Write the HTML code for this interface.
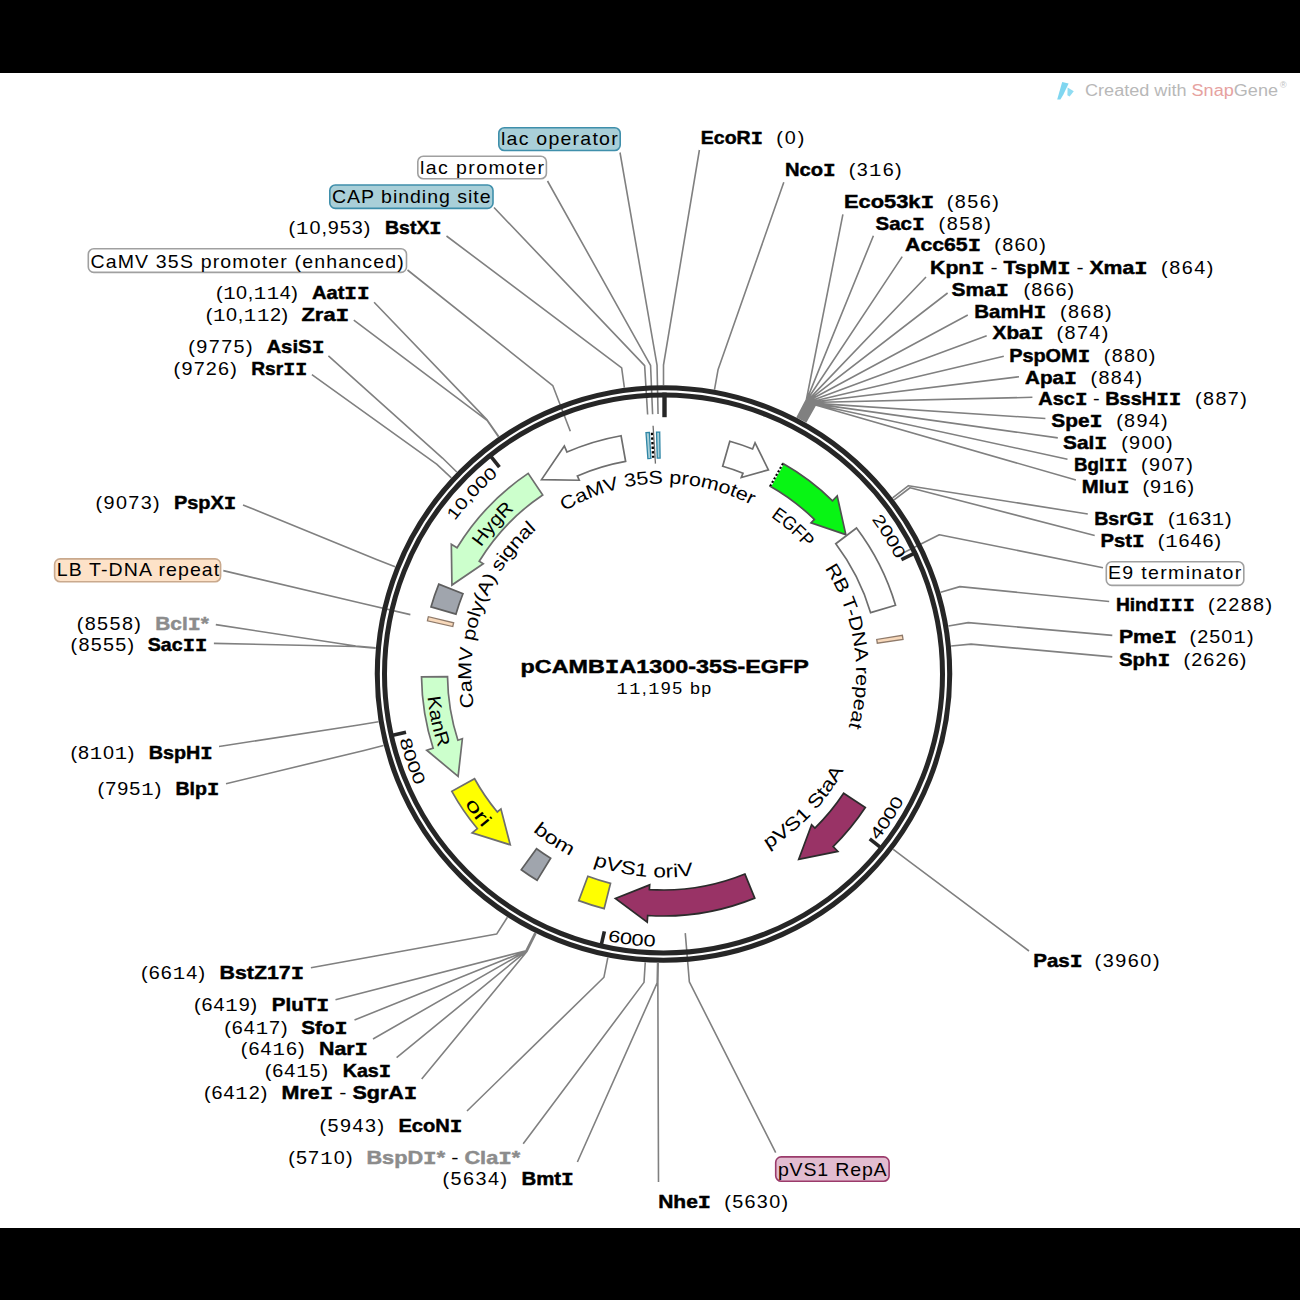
<!DOCTYPE html>
<html><head><meta charset="utf-8"><style>html,body{margin:0;padding:0;background:#fff;}svg{display:block;}</style></head>
<body><svg width="1300" height="1300" viewBox="0 0 1300 1300">
<defs><path id="tp1" d="M473.1 680.32 A190.5 190.5 0 0 1 853.9 667.68"/>
<path id="tp2" d="M520.71 547.9 A190.5 190.5 0 0 1 806.29 800.1"/>
<path id="tp3" d="M634.58 483.48 A192.7 192.7 0 0 1 692.42 864.52"/>
<path id="tp4" d="M522.47 822.09 A204.5 204.5 0 0 0 804.53 525.91"/>
<path id="tp5" d="M461.07 653.15 A203.5 203.5 0 0 0 865.93 694.85"/>
<path id="tp6" d="M491.94 560.88 A205.5 205.5 0 0 0 835.06 787.12"/>
<path id="tp7" d="M599.55 855.99 A192.9 192.9 0 0 1 727.45 492.01"/>
<path id="tp8" d="M516.32 841.53 A223 223 0 0 1 810.68 506.47"/>
<path id="tp9" d="M614.93 441.52 A237.5 237.5 0 0 0 712.07 906.48"/>
<path id="tp10" d="M520.75 483.19 A238.3 238.3 0 0 0 806.25 864.81"/>
<path id="tp11" d="M527.93 451.91 A260.2 260.2 0 0 1 799.07 896.09"/>
<path id="tp12" d="M486.01 862.35 A258.8 258.8 0 0 1 840.99 485.65"/>
<path id="tp13" d="M515.88 903.05 A272.5 272.5 0 0 0 811.12 444.95"/>
<path id="tp14" d="M391.43 641.56 A274 274 0 0 0 935.57 706.44"/>
<path id="tp15" d="M574.5 416.97 A272 272 0 0 0 752.5 931.03"/></defs>
<rect x="0" y="0" width="1300" height="1300" fill="#fff"/>
<rect x="0" y="0" width="1300" height="73" fill="#000"/>
<rect x="0" y="1228" width="1300" height="72" fill="#000"/>
<path d="M699.4 150 L663.5 365 L663.5 385 M783.8 182.3 L718.02 369.85 L714.49 389.53 M842.9 214.3 L806.31 399.98 L797.06 417.72 M873.4 235.7 L806.61 400.14 L797.35 417.87 M902.2 256.6 L806.92 400.3 L797.64 418.02 M926 277 L807.54 400.62 L798.21 418.32 M947.6 293 L807.84 400.79 L798.5 418.47 M967.8 315 L808.15 400.95 L798.79 418.62 M986.7 335.8 L809.07 401.44 L799.65 419.08 M1003.8 356.3 L809.99 401.93 L800.5 419.54 M1019 376.8 L810.6 402.26 L801.08 419.85 M1032.4 397.3 L811.05 402.51 L801.5 420.08 M1045.4 418.5 L812.12 403.09 L802.5 420.62 M1057.8 437.9 L813.03 403.59 L803.35 421.09 M1067.5 459.2 L814.09 404.18 L804.34 421.64 M1075.9 480 L815.45 404.94 L805.62 422.36 M1087.8 514 L908.48 485.67 L892.62 497.86 M1094.7 535.4 L910.05 487.74 L894.1 499.8 M1109.2 601.5 L959.89 586.63 L940.71 592.29 M1112.3 635.4 L968.2 622.6 L948.47 625.93 M1112.3 656.9 L971.05 644.09 L951.14 646.02 M1029 951 L909.16 861.43 L893.26 849.3 M658.5 1182 L657.86 982.95 L658.23 962.95 M446.5 236 L621.66 367.85 L624.37 387.66 M374.1 302.3 L487.32 420.15 L498.72 436.58 M353.8 320.2 L487.03 420.35 L498.46 436.76 M328.4 355.9 L442.49 458.05 L456.79 472.03 M311.9 374.7 L436.63 464.21 L451.32 477.79 M243 504.9 L376.52 559.44 L395.1 566.85 M215.8 624.6 L355.77 645.99 L375.69 647.8 M213.9 643.4 L355.73 646.51 L375.65 648.28 M219 746.5 L358.73 724.97 L378.46 721.67 M226 783.7 L364.1 750.42 L383.48 745.47 M310.9 967.8 L496.62 934.06 L507.42 917.23 M335.5 999.8 L526.02 950.73 L534.92 932.82 M354.5 1020 L526.34 950.89 L535.21 932.97 M373 1039 L526.49 950.96 L535.36 933.04 M396.6 1057.7 L526.65 951.04 L535.5 933.11 M421.7 1079 L527.11 951.27 L535.94 933.33 M467 1111 L603.96 977.21 L607.81 957.58 M523.2 1143.8 L644 982.38 L645.26 962.42 M577.4 1162 L657.17 982.94 L657.58 962.94 M620 152.5 L657.03 365.07 L658.05 414.06 M547.5 181 L650.56 365.27 L652.61 414.23 M494 207.5 L644.64 365.58 L647.63 414.48 M407.5 270 L552.76 385.52 L570.32 431.27 M1103 567.7 L939.31 534.68 L895.57 556.77 M223.3 570.6 L362.66 603.44 L410.37 614.63 M775.7 1152.7 L689.36 981.92 L685.26 933.09" fill="none" stroke="#808080" stroke-width="1.6" stroke-linejoin="round"/>
<circle cx="663.5" cy="674" r="286.2" fill="none" stroke="#262626" stroke-width="5.1"/>
<circle cx="663.5" cy="674" r="279" fill="none" stroke="#262626" stroke-width="5"/>
<line x1="664.5" y1="392.6" x2="664.5" y2="417.2" stroke="#262626" stroke-width="4.4"/>
<line x1="916.73" y1="552.21" x2="901.41" y2="559.57" stroke="#262626" stroke-width="3.6"/>
<line x1="883.02" y1="849.42" x2="869.74" y2="838.81" stroke="#262626" stroke-width="3.6"/>
<line x1="600.56" y1="947.86" x2="604.37" y2="931.29" stroke="#262626" stroke-width="3.6"/>
<line x1="389.42" y1="735.98" x2="406" y2="732.23" stroke="#262626" stroke-width="3.6"/>
<line x1="488.85" y1="453.87" x2="499.42" y2="467.18" stroke="#262626" stroke-width="3.6"/>
<path d="M621.06 435.75 A242 242 0 0 0 567 452.07 L564.33 445.93 L541.54 479.59 L579.24 480.23 L577.37 475.92 A216 216 0 0 1 625.62 461.35 Z" fill="#ffffff" stroke="#6e6e6e" stroke-width="1.7" stroke-linejoin="miter"/>
<path d="M729.8 441.26 A242 242 0 0 1 752.59 448.99 L755.05 442.76 L768.4 469.88 L741.28 477.54 L743.01 473.17 A216 216 0 0 0 722.68 466.26 Z" fill="#ffffff" stroke="#6e6e6e" stroke-width="1.7" stroke-linejoin="miter"/>
<path d="M783.03 463.58 A242 242 0 0 1 832.52 500.8 L837.2 496.01 L845.82 534.61 L811.08 522.77 L814.36 519.41 A216 216 0 0 0 770.19 486.19 Z" fill="#08f514" stroke="#505050" stroke-width="1.7" stroke-linejoin="miter"/>
<line x1="783.03" y1="463.58" x2="770.19" y2="486.19" stroke="#fff" stroke-width="2.2"/>
<line x1="783.03" y1="463.58" x2="770.19" y2="486.19" stroke="#000" stroke-width="2.2" stroke-dasharray="2 2"/>
<path d="M856.52 528.02 A242 242 0 0 1 895.53 605.27 L870.61 612.65 A216 216 0 0 0 835.78 543.71 Z" fill="#ffffff" stroke="#6e6e6e" stroke-width="1.7" stroke-linejoin="miter"/>
<path d="M902.39 635.31 A242 242 0 0 1 903.03 639.48 L877.29 643.19 A216 216 0 0 0 876.72 639.47 Z" fill="#f8d9bb" stroke="#8f7a6a" stroke-width="1.3" stroke-linejoin="miter"/>
<path d="M865.3 807.57 A242 242 0 0 1 833.12 846.61 L837.82 851.39 L798.72 859.43 L811.6 824.71 L814.9 828.06 A216 216 0 0 0 843.62 793.22 Z" fill="#993366" stroke="#2b2b2b" stroke-width="1.7" stroke-linejoin="miter"/>
<path d="M754.74 898.14 A242 242 0 0 1 647.67 915.48 L647.23 922.17 L615.39 898.4 L649.68 884.85 L649.37 889.54 A216 216 0 0 0 744.94 874.06 Z" fill="#993366" stroke="#2b2b2b" stroke-width="1.7" stroke-linejoin="miter"/>
<path d="M604.14 908.61 A242 242 0 0 1 578.75 900.67 L587.86 876.32 A216 216 0 0 0 610.51 883.4 Z" fill="#ffff00" stroke="#6e6e6e" stroke-width="1.7" stroke-linejoin="miter"/>
<path d="M537.06 880.34 A242 242 0 0 1 521.26 869.78 L536.54 848.75 A216 216 0 0 0 550.64 858.17 Z" fill="#a0a5ad" stroke="#5e5e5e" stroke-width="1.7" stroke-linejoin="miter"/>
<path d="M451.84 791.32 A242 242 0 0 0 477.31 828.58 L472.15 832.86 L510.23 844.82 L500.93 808.97 L497.31 811.97 A216 216 0 0 1 474.58 778.72 Z" fill="#ffff00" stroke="#6e6e6e" stroke-width="1.7" stroke-linejoin="miter"/>
<path d="M421.52 676.96 A242 242 0 0 0 433.15 748.18 L426.77 750.23 L458.11 776.4 L462.37 738.77 L457.9 740.21 A216 216 0 0 1 447.52 676.64 Z" fill="#ccffcc" stroke="#6e6e6e" stroke-width="1.7" stroke-linejoin="miter"/>
<path d="M430.99 606.89 A242 242 0 0 1 438.81 584.13 L462.95 593.78 A216 216 0 0 0 455.97 614.1 Z" fill="#a0a5ad" stroke="#5e5e5e" stroke-width="1.7" stroke-linejoin="miter"/>
<path d="M427.42 620.8 A242 242 0 0 1 428.39 616.69 L453.65 622.84 A216 216 0 0 0 452.78 626.51 Z" fill="#f8d9bb" stroke="#8f7a6a" stroke-width="1.3" stroke-linejoin="miter"/>
<path d="M528.18 473.37 A242 242 0 0 0 457.05 547.74 L451.34 544.24 L451.93 585.07 L483.24 563.75 L479.23 561.3 A216 216 0 0 1 542.71 494.93 Z" fill="#ccffcc" stroke="#6e6e6e" stroke-width="1.7" stroke-linejoin="miter"/>
<path d="M645.99 432.63 A242 242 0 0 1 649.36 432.41 L650.88 458.37 A216 216 0 0 0 647.87 458.57 Z" fill="#a9cfd8" stroke="#2f86a6" stroke-width="1.3" stroke-linejoin="miter"/>
<path d="M656.53 432.1 A242 242 0 0 1 659.7 432.03 L660.11 458.03 A216 216 0 0 0 657.28 458.09 Z" fill="#a9cfd8" stroke="#2f86a6" stroke-width="1.3" stroke-linejoin="miter"/>
<line x1="652.12" y1="432.77" x2="653.3" y2="457.74" stroke="#000" stroke-width="2.6" stroke-dasharray="2.4 2.2"/>
<line x1="653.09" y1="425.72" x2="655.42" y2="463.66" stroke="#6e6e6e" stroke-width="1.3"/>
<text font-family='"Liberation Sans", sans-serif' font-size="18.6" font-weight="normal" fill="#000"><textPath href="#tp1" startOffset="50%" text-anchor="middle" textLength="195.83" lengthAdjust="spacingAndGlyphs">CaMV 35S promoter</textPath></text>
<text font-family='"Liberation Sans", sans-serif' font-size="18.6" font-weight="normal" fill="#000"><textPath href="#tp2" startOffset="50%" text-anchor="middle" textLength="47.55" lengthAdjust="spacingAndGlyphs">EGFP</textPath></text>
<text font-family='"Liberation Sans", sans-serif' font-size="18.6" font-weight="normal" fill="#000"><textPath href="#tp3" startOffset="50%" text-anchor="middle" textLength="165.81" lengthAdjust="spacingAndGlyphs">RB T-DNA repeat</textPath></text>
<text font-family='"Liberation Sans", sans-serif' font-size="18.6" font-weight="normal" fill="#000"><textPath href="#tp4" startOffset="50%" text-anchor="middle" textLength="110.65" lengthAdjust="spacingAndGlyphs">pVS1 StaA</textPath></text>
<text font-family='"Liberation Sans", sans-serif' font-size="18.6" font-weight="normal" fill="#000"><textPath href="#tp5" startOffset="50%" text-anchor="middle" textLength="102.08" lengthAdjust="spacingAndGlyphs">pVS1 oriV</textPath></text>
<text font-family='"Liberation Sans", sans-serif' font-size="18.6" font-weight="normal" fill="#000"><textPath href="#tp6" startOffset="50%" text-anchor="middle" textLength="45.19" lengthAdjust="spacingAndGlyphs">bom</textPath></text>
<text font-family='"Liberation Sans", sans-serif' font-size="18.6" font-weight="normal" fill="#000"><textPath href="#tp7" startOffset="50%" text-anchor="middle" textLength="197.29" lengthAdjust="spacingAndGlyphs">CaMV poly(A) signal</textPath></text>
<text font-family='"Liberation Sans", sans-serif' font-size="18.6" font-weight="normal" fill="#000"><textPath href="#tp8" startOffset="50%" text-anchor="middle" textLength="50.6" lengthAdjust="spacingAndGlyphs">HygR</textPath></text>
<text font-family='"Liberation Sans", sans-serif' font-size="18.6" font-weight="normal" fill="#000"><textPath href="#tp9" startOffset="50%" text-anchor="middle" textLength="52.23" lengthAdjust="spacingAndGlyphs">KanR</textPath></text>
<text font-family='"Liberation Sans", sans-serif' font-size="18.6" font-weight="normal" fill="#000"><textPath href="#tp10" startOffset="50%" text-anchor="middle" textLength="31.19" lengthAdjust="spacingAndGlyphs">ori</textPath></text>
<text font-family='"Liberation Sans", sans-serif' font-size="16.6" font-weight="normal" fill="#000"><textPath href="#tp11" startOffset="50%" text-anchor="middle" textLength="47.68" lengthAdjust="spacingAndGlyphs">2000</textPath></text>
<text font-family='"Liberation Sans", sans-serif' font-size="16.6" font-weight="normal" fill="#000"><textPath href="#tp12" startOffset="50%" text-anchor="middle" textLength="63.69" lengthAdjust="spacingAndGlyphs">10,000</textPath></text>
<text font-family='"Liberation Sans", sans-serif' font-size="16.6" font-weight="normal" fill="#000"><textPath href="#tp13" startOffset="50%" text-anchor="middle" textLength="48.27" lengthAdjust="spacingAndGlyphs">4000</textPath></text>
<text font-family='"Liberation Sans", sans-serif' font-size="16.6" font-weight="normal" fill="#000"><textPath href="#tp14" startOffset="50%" text-anchor="middle" textLength="48.3" lengthAdjust="spacingAndGlyphs">6000</textPath></text>
<text font-family='"Liberation Sans", sans-serif' font-size="16.6" font-weight="normal" fill="#000"><textPath href="#tp15" startOffset="50%" text-anchor="middle" textLength="49.37" lengthAdjust="spacingAndGlyphs">8000</textPath></text>
<text x="520.6" y="673.4" font-family='"Liberation Sans", sans-serif' font-size="19" font-weight="bold" stroke="#000" stroke-width="0.45" textLength="288.2" lengthAdjust="spacingAndGlyphs">pCAMB<tspan font-family='"Liberation Mono", monospace' font-size="19.85">I</tspan>A1300-35S-EGFP</text>
<text transform="translate(616.6 693.6) scale(1.1 1)" font-family='"Liberation Sans", sans-serif' font-size="16.2" textLength="86" lengthAdjust="spacing"><tspan font-family='"Liberation Mono", monospace' font-size="16.9">1</tspan><tspan font-family='"Liberation Mono", monospace' font-size="16.9">1</tspan>,<tspan font-family='"Liberation Mono", monospace' font-size="16.9">1</tspan>95 bp</text>
<!--T--><text x="700.8" y="143.9" font-family='"Liberation Sans", sans-serif' font-size="18.4" font-weight="bold" fill="#000" stroke="#000" stroke-width="0.45" textLength="62.1" lengthAdjust="spacingAndGlyphs">EcoR<tspan font-family='"Liberation Mono", monospace' font-size="19.22">I</tspan></text>
<!--T--><text transform="translate(776.2 143.9) scale(1.1 1)" font-family='"Liberation Sans", sans-serif' font-size="18.0" font-weight="normal" fill="#000" textLength="25.64" lengthAdjust="spacing">(0)</text>
<!--T--><text x="785" y="175.9" font-family='"Liberation Sans", sans-serif' font-size="18.4" font-weight="bold" fill="#000" stroke="#000" stroke-width="0.45" textLength="50.7" lengthAdjust="spacingAndGlyphs">Nco<tspan font-family='"Liberation Mono", monospace' font-size="19.22">I</tspan></text>
<!--T--><text transform="translate(848.8 175.9) scale(1.1 1)" font-family='"Liberation Sans", sans-serif' font-size="18.0" font-weight="normal" fill="#000" textLength="48.09" lengthAdjust="spacing">(3<tspan font-family='"Liberation Mono", monospace' font-size="18.8">1</tspan>6)</text>
<!--T--><text x="844" y="207.9" font-family='"Liberation Sans", sans-serif' font-size="18.4" font-weight="bold" fill="#000" stroke="#000" stroke-width="0.45" textLength="90.2" lengthAdjust="spacingAndGlyphs">Eco53k<tspan font-family='"Liberation Mono", monospace' font-size="19.22">I</tspan></text>
<!--T--><text transform="translate(946.8 207.9) scale(1.1 1)" font-family='"Liberation Sans", sans-serif' font-size="18.0" font-weight="normal" fill="#000" textLength="47.36" lengthAdjust="spacing">(856)</text>
<!--T--><text x="875.6" y="229.5" font-family='"Liberation Sans", sans-serif' font-size="18.4" font-weight="bold" fill="#000" stroke="#000" stroke-width="0.45" textLength="49.2" lengthAdjust="spacingAndGlyphs">Sac<tspan font-family='"Liberation Mono", monospace' font-size="19.22">I</tspan></text>
<!--T--><text transform="translate(938.6 229.5) scale(1.1 1)" font-family='"Liberation Sans", sans-serif' font-size="18.0" font-weight="normal" fill="#000" textLength="47.45" lengthAdjust="spacing">(858)</text>
<!--T--><text x="905.1" y="251.3" font-family='"Liberation Sans", sans-serif' font-size="18.4" font-weight="bold" fill="#000" stroke="#000" stroke-width="0.45" textLength="75.9" lengthAdjust="spacingAndGlyphs">Acc65<tspan font-family='"Liberation Mono", monospace' font-size="19.22">I</tspan></text>
<!--T--><text transform="translate(994.3 251.3) scale(1.1 1)" font-family='"Liberation Sans", sans-serif' font-size="18.0" font-weight="normal" fill="#000" textLength="46.82" lengthAdjust="spacing">(860)</text>
<!--T--><text x="930.1" y="273.5" font-family='"Liberation Sans", sans-serif' font-size="18.4" font-weight="bold" fill="#000" stroke="#000" stroke-width="0.45" textLength="217.4" lengthAdjust="spacingAndGlyphs"><tspan fill="#000">Kpn<tspan font-family='"Liberation Mono", monospace' font-size="19.22">I</tspan></tspan><tspan font-weight="normal" fill="#000" stroke-width="0"> - </tspan><tspan fill="#000">TspM<tspan font-family='"Liberation Mono", monospace' font-size="19.22">I</tspan></tspan><tspan font-weight="normal" fill="#000" stroke-width="0"> - </tspan><tspan fill="#000">Xma<tspan font-family='"Liberation Mono", monospace' font-size="19.22">I</tspan></tspan></text>
<!--T--><text transform="translate(1161.1 273.5) scale(1.1 1)" font-family='"Liberation Sans", sans-serif' font-size="18.0" font-weight="normal" fill="#000" textLength="47.45" lengthAdjust="spacing">(864)</text>
<!--T--><text x="951.6" y="295.6" font-family='"Liberation Sans", sans-serif' font-size="18.4" font-weight="bold" fill="#000" stroke="#000" stroke-width="0.45" textLength="57.4" lengthAdjust="spacingAndGlyphs">Sma<tspan font-family='"Liberation Mono", monospace' font-size="19.22">I</tspan></text>
<!--T--><text transform="translate(1023.4 295.6) scale(1.1 1)" font-family='"Liberation Sans", sans-serif' font-size="18.0" font-weight="normal" fill="#000" textLength="46.18" lengthAdjust="spacing">(866)</text>
<!--T--><text x="974.3" y="317.5" font-family='"Liberation Sans", sans-serif' font-size="18.4" font-weight="bold" fill="#000" stroke="#000" stroke-width="0.45" textLength="72.1" lengthAdjust="spacingAndGlyphs">BamH<tspan font-family='"Liberation Mono", monospace' font-size="19.22">I</tspan></text>
<!--T--><text transform="translate(1060 317.5) scale(1.1 1)" font-family='"Liberation Sans", sans-serif' font-size="18.0" font-weight="normal" fill="#000" textLength="47" lengthAdjust="spacing">(868)</text>
<!--T--><text x="992.6" y="339.4" font-family='"Liberation Sans", sans-serif' font-size="18.4" font-weight="bold" fill="#000" stroke="#000" stroke-width="0.45" textLength="51" lengthAdjust="spacingAndGlyphs">Xba<tspan font-family='"Liberation Mono", monospace' font-size="19.22">I</tspan></text>
<!--T--><text transform="translate(1056.6 339.4) scale(1.1 1)" font-family='"Liberation Sans", sans-serif' font-size="18.0" font-weight="normal" fill="#000" textLength="47" lengthAdjust="spacing">(874)</text>
<!--T--><text x="1009.2" y="361.5" font-family='"Liberation Sans", sans-serif' font-size="18.4" font-weight="bold" fill="#000" stroke="#000" stroke-width="0.45" textLength="80.9" lengthAdjust="spacingAndGlyphs">PspOM<tspan font-family='"Liberation Mono", monospace' font-size="19.22">I</tspan></text>
<!--T--><text transform="translate(1103.7 361.5) scale(1.1 1)" font-family='"Liberation Sans", sans-serif' font-size="18.0" font-weight="normal" fill="#000" textLength="47" lengthAdjust="spacing">(880)</text>
<!--T--><text x="1025" y="383.7" font-family='"Liberation Sans", sans-serif' font-size="18.4" font-weight="bold" fill="#000" stroke="#000" stroke-width="0.45" textLength="51.9" lengthAdjust="spacingAndGlyphs">Apa<tspan font-family='"Liberation Mono", monospace' font-size="19.22">I</tspan></text>
<!--T--><text transform="translate(1090.4 383.7) scale(1.1 1)" font-family='"Liberation Sans", sans-serif' font-size="18.0" font-weight="normal" fill="#000" textLength="47.09" lengthAdjust="spacing">(884)</text>
<!--T--><text x="1038.3" y="405.3" font-family='"Liberation Sans", sans-serif' font-size="18.4" font-weight="bold" fill="#000" stroke="#000" stroke-width="0.45" textLength="143" lengthAdjust="spacingAndGlyphs"><tspan fill="#000">Asc<tspan font-family='"Liberation Mono", monospace' font-size="19.22">I</tspan></tspan><tspan font-weight="normal" fill="#000" stroke-width="0"> - </tspan><tspan fill="#000">BssH<tspan font-family='"Liberation Mono", monospace' font-size="19.22">I</tspan><tspan font-family='"Liberation Mono", monospace' font-size="19.22">I</tspan></tspan></text>
<!--T--><text transform="translate(1195.1 405.3) scale(1.1 1)" font-family='"Liberation Sans", sans-serif' font-size="18.0" font-weight="normal" fill="#000" textLength="47" lengthAdjust="spacing">(887)</text>
<!--T--><text x="1051.3" y="427.4" font-family='"Liberation Sans", sans-serif' font-size="18.4" font-weight="bold" fill="#000" stroke="#000" stroke-width="0.45" textLength="51.3" lengthAdjust="spacingAndGlyphs">Spe<tspan font-family='"Liberation Mono", monospace' font-size="19.22">I</tspan></text>
<!--T--><text transform="translate(1116.2 427.4) scale(1.1 1)" font-family='"Liberation Sans", sans-serif' font-size="18.0" font-weight="normal" fill="#000" textLength="46.73" lengthAdjust="spacing">(894)</text>
<!--T--><text x="1063" y="449" font-family='"Liberation Sans", sans-serif' font-size="18.4" font-weight="bold" fill="#000" stroke="#000" stroke-width="0.45" textLength="44.3" lengthAdjust="spacingAndGlyphs">Sal<tspan font-family='"Liberation Mono", monospace' font-size="19.22">I</tspan></text>
<!--T--><text transform="translate(1121.2 449) scale(1.1 1)" font-family='"Liberation Sans", sans-serif' font-size="18.0" font-weight="normal" fill="#000" textLength="46.73" lengthAdjust="spacing">(900)</text>
<!--T--><text x="1074" y="470.9" font-family='"Liberation Sans", sans-serif' font-size="18.4" font-weight="bold" fill="#000" stroke="#000" stroke-width="0.45" textLength="53.5" lengthAdjust="spacingAndGlyphs">Bgl<tspan font-family='"Liberation Mono", monospace' font-size="19.22">I</tspan><tspan font-family='"Liberation Mono", monospace' font-size="19.22">I</tspan></text>
<!--T--><text transform="translate(1141.1 470.9) scale(1.1 1)" font-family='"Liberation Sans", sans-serif' font-size="18.0" font-weight="normal" fill="#000" textLength="47" lengthAdjust="spacing">(907)</text>
<!--T--><text x="1081.8" y="493" font-family='"Liberation Sans", sans-serif' font-size="18.4" font-weight="bold" fill="#000" stroke="#000" stroke-width="0.45" textLength="47.7" lengthAdjust="spacingAndGlyphs">Mlu<tspan font-family='"Liberation Mono", monospace' font-size="19.22">I</tspan></text>
<!--T--><text transform="translate(1142.5 493) scale(1.1 1)" font-family='"Liberation Sans", sans-serif' font-size="18.0" font-weight="normal" fill="#000" textLength="47" lengthAdjust="spacing">(9<tspan font-family='"Liberation Mono", monospace' font-size="18.8">1</tspan>6)</text>
<!--T--><text x="1094.2" y="524.9" font-family='"Liberation Sans", sans-serif' font-size="18.4" font-weight="bold" fill="#000" stroke="#000" stroke-width="0.45" textLength="60.2" lengthAdjust="spacingAndGlyphs">BsrG<tspan font-family='"Liberation Mono", monospace' font-size="19.22">I</tspan></text>
<!--T--><text transform="translate(1168 524.9) scale(1.1 1)" font-family='"Liberation Sans", sans-serif' font-size="18.0" font-weight="normal" fill="#000" textLength="57.82" lengthAdjust="spacing">(<tspan font-family='"Liberation Mono", monospace' font-size="18.8">1</tspan>63<tspan font-family='"Liberation Mono", monospace' font-size="18.8">1</tspan>)</text>
<!--T--><text x="1100.6" y="546.5" font-family='"Liberation Sans", sans-serif' font-size="18.4" font-weight="bold" fill="#000" stroke="#000" stroke-width="0.45" textLength="44.1" lengthAdjust="spacingAndGlyphs">Pst<tspan font-family='"Liberation Mono", monospace' font-size="19.22">I</tspan></text>
<!--T--><text transform="translate(1157.7 546.5) scale(1.1 1)" font-family='"Liberation Sans", sans-serif' font-size="18.0" font-weight="normal" fill="#000" textLength="57.64" lengthAdjust="spacing">(<tspan font-family='"Liberation Mono", monospace' font-size="18.8">1</tspan>646)</text>
<!--T--><text x="1115.9" y="611.4" font-family='"Liberation Sans", sans-serif' font-size="18.4" font-weight="bold" fill="#000" stroke="#000" stroke-width="0.45" textLength="78.9" lengthAdjust="spacingAndGlyphs">Hind<tspan font-family='"Liberation Mono", monospace' font-size="19.22">I</tspan><tspan font-family='"Liberation Mono", monospace' font-size="19.22">I</tspan><tspan font-family='"Liberation Mono", monospace' font-size="19.22">I</tspan></text>
<!--T--><text transform="translate(1208 611.4) scale(1.1 1)" font-family='"Liberation Sans", sans-serif' font-size="18.0" font-weight="normal" fill="#000" textLength="58.18" lengthAdjust="spacing">(2288)</text>
<!--T--><text x="1119" y="643" font-family='"Liberation Sans", sans-serif' font-size="18.4" font-weight="bold" fill="#000" stroke="#000" stroke-width="0.45" textLength="58" lengthAdjust="spacingAndGlyphs">Pme<tspan font-family='"Liberation Mono", monospace' font-size="19.22">I</tspan></text>
<!--T--><text transform="translate(1189.6 643) scale(1.1 1)" font-family='"Liberation Sans", sans-serif' font-size="18.0" font-weight="normal" fill="#000" textLength="58.09" lengthAdjust="spacing">(250<tspan font-family='"Liberation Mono", monospace' font-size="18.8">1</tspan>)</text>
<!--T--><text x="1119" y="665.5" font-family='"Liberation Sans", sans-serif' font-size="18.4" font-weight="bold" fill="#000" stroke="#000" stroke-width="0.45" textLength="51.2" lengthAdjust="spacingAndGlyphs">Sph<tspan font-family='"Liberation Mono", monospace' font-size="19.22">I</tspan></text>
<!--T--><text transform="translate(1183.4 665.5) scale(1.1 1)" font-family='"Liberation Sans", sans-serif' font-size="18.0" font-weight="normal" fill="#000" textLength="57.27" lengthAdjust="spacing">(2626)</text>
<!--T--><text x="1033.2" y="967.4" font-family='"Liberation Sans", sans-serif' font-size="18.4" font-weight="bold" fill="#000" stroke="#000" stroke-width="0.45" textLength="49.4" lengthAdjust="spacingAndGlyphs">Pas<tspan font-family='"Liberation Mono", monospace' font-size="19.22">I</tspan></text>
<!--T--><text transform="translate(1094.6 967.4) scale(1.1 1)" font-family='"Liberation Sans", sans-serif' font-size="18.0" font-weight="normal" fill="#000" textLength="59" lengthAdjust="spacing">(3960)</text>
<!--T--><text x="658.2" y="1207.7" font-family='"Liberation Sans", sans-serif' font-size="18.4" font-weight="bold" fill="#000" stroke="#000" stroke-width="0.45" textLength="52.8" lengthAdjust="spacingAndGlyphs">Nhe<tspan font-family='"Liberation Mono", monospace' font-size="19.22">I</tspan></text>
<!--T--><text transform="translate(724.2 1207.7) scale(1.1 1)" font-family='"Liberation Sans", sans-serif' font-size="18.0" font-weight="normal" fill="#000" textLength="58.09" lengthAdjust="spacing">(5630)</text>
<!--T--><text transform="translate(288.5 234.4) scale(1.1 1)" font-family='"Liberation Sans", sans-serif' font-size="18.0" font-weight="normal" fill="#000" textLength="74.45" lengthAdjust="spacing">(<tspan font-family='"Liberation Mono", monospace' font-size="18.8">1</tspan>0,953)</text>
<!--T--><text x="385" y="234.4" font-family='"Liberation Sans", sans-serif' font-size="18.4" font-weight="bold" fill="#000" stroke="#000" stroke-width="0.45" textLength="56.6" lengthAdjust="spacingAndGlyphs">BstX<tspan font-family='"Liberation Mono", monospace' font-size="19.22">I</tspan></text>
<!--T--><text transform="translate(216 299) scale(1.1 1)" font-family='"Liberation Sans", sans-serif' font-size="18.0" font-weight="normal" fill="#000" textLength="74.36" lengthAdjust="spacing">(<tspan font-family='"Liberation Mono", monospace' font-size="18.8">1</tspan>0,<tspan font-family='"Liberation Mono", monospace' font-size="18.8">1</tspan><tspan font-family='"Liberation Mono", monospace' font-size="18.8">1</tspan>4)</text>
<!--T--><text x="311.9" y="299" font-family='"Liberation Sans", sans-serif' font-size="18.4" font-weight="bold" fill="#000" stroke="#000" stroke-width="0.45" textLength="57.7" lengthAdjust="spacingAndGlyphs">Aat<tspan font-family='"Liberation Mono", monospace' font-size="19.22">I</tspan><tspan font-family='"Liberation Mono", monospace' font-size="19.22">I</tspan></text>
<!--T--><text transform="translate(205.8 320.8) scale(1.1 1)" font-family='"Liberation Sans", sans-serif' font-size="18.0" font-weight="normal" fill="#000" textLength="74.91" lengthAdjust="spacing">(<tspan font-family='"Liberation Mono", monospace' font-size="18.8">1</tspan>0,<tspan font-family='"Liberation Mono", monospace' font-size="18.8">1</tspan><tspan font-family='"Liberation Mono", monospace' font-size="18.8">1</tspan>2)</text>
<!--T--><text x="301.5" y="320.8" font-family='"Liberation Sans", sans-serif' font-size="18.4" font-weight="bold" fill="#000" stroke="#000" stroke-width="0.45" textLength="47.8" lengthAdjust="spacingAndGlyphs">Zra<tspan font-family='"Liberation Mono", monospace' font-size="19.22">I</tspan></text>
<!--T--><text transform="translate(188.3 352.9) scale(1.1 1)" font-family='"Liberation Sans", sans-serif' font-size="18.0" font-weight="normal" fill="#000" textLength="58.45" lengthAdjust="spacing">(9775)</text>
<!--T--><text x="266.4" y="352.9" font-family='"Liberation Sans", sans-serif' font-size="18.4" font-weight="bold" fill="#000" stroke="#000" stroke-width="0.45" textLength="58" lengthAdjust="spacingAndGlyphs">AsiS<tspan font-family='"Liberation Mono", monospace' font-size="19.22">I</tspan></text>
<!--T--><text transform="translate(173.6 374.7) scale(1.1 1)" font-family='"Liberation Sans", sans-serif' font-size="18.0" font-weight="normal" fill="#000" textLength="57.55" lengthAdjust="spacing">(9726)</text>
<!--T--><text x="251.3" y="374.7" font-family='"Liberation Sans", sans-serif' font-size="18.4" font-weight="bold" fill="#000" stroke="#000" stroke-width="0.45" textLength="55.9" lengthAdjust="spacingAndGlyphs">Rsr<tspan font-family='"Liberation Mono", monospace' font-size="19.22">I</tspan><tspan font-family='"Liberation Mono", monospace' font-size="19.22">I</tspan></text>
<!--T--><text transform="translate(95.6 508.5) scale(1.1 1)" font-family='"Liberation Sans", sans-serif' font-size="18.0" font-weight="normal" fill="#000" textLength="58.27" lengthAdjust="spacing">(9073)</text>
<!--T--><text x="173.9" y="508.5" font-family='"Liberation Sans", sans-serif' font-size="18.4" font-weight="bold" fill="#000" stroke="#000" stroke-width="0.45" textLength="62.3" lengthAdjust="spacingAndGlyphs">PspX<tspan font-family='"Liberation Mono", monospace' font-size="19.22">I</tspan></text>
<!--T--><text transform="translate(76.7 629.5) scale(1.1 1)" font-family='"Liberation Sans", sans-serif' font-size="18.0" font-weight="normal" fill="#000" textLength="58.36" lengthAdjust="spacing">(8558)</text>
<!--T--><text x="155.3" y="629.5" font-family='"Liberation Sans", sans-serif' font-size="18.4" font-weight="bold" fill="#8c8c8c" stroke="#8c8c8c" stroke-width="0.45" textLength="53.7" lengthAdjust="spacingAndGlyphs">Bcl<tspan font-family='"Liberation Mono", monospace' font-size="19.22">I</tspan>*</text>
<!--T--><text transform="translate(70.6 651.1) scale(1.1 1)" font-family='"Liberation Sans", sans-serif' font-size="18.0" font-weight="normal" fill="#000" textLength="57.64" lengthAdjust="spacing">(8555)</text>
<!--T--><text x="147.8" y="651.1" font-family='"Liberation Sans", sans-serif' font-size="18.4" font-weight="bold" fill="#000" stroke="#000" stroke-width="0.45" textLength="59.4" lengthAdjust="spacingAndGlyphs">Sac<tspan font-family='"Liberation Mono", monospace' font-size="19.22">I</tspan><tspan font-family='"Liberation Mono", monospace' font-size="19.22">I</tspan></text>
<!--T--><text transform="translate(70.6 758.8) scale(1.1 1)" font-family='"Liberation Sans", sans-serif' font-size="18.0" font-weight="normal" fill="#000" textLength="58" lengthAdjust="spacing">(8<tspan font-family='"Liberation Mono", monospace' font-size="18.8">1</tspan>0<tspan font-family='"Liberation Mono", monospace' font-size="18.8">1</tspan>)</text>
<!--T--><text x="148.7" y="758.8" font-family='"Liberation Sans", sans-serif' font-size="18.4" font-weight="bold" fill="#000" stroke="#000" stroke-width="0.45" textLength="64" lengthAdjust="spacingAndGlyphs">BspH<tspan font-family='"Liberation Mono", monospace' font-size="19.22">I</tspan></text>
<!--T--><text transform="translate(97.5 795.4) scale(1.1 1)" font-family='"Liberation Sans", sans-serif' font-size="18.0" font-weight="normal" fill="#000" textLength="58.09" lengthAdjust="spacing">(795<tspan font-family='"Liberation Mono", monospace' font-size="18.8">1</tspan>)</text>
<!--T--><text x="175.4" y="795.4" font-family='"Liberation Sans", sans-serif' font-size="18.4" font-weight="bold" fill="#000" stroke="#000" stroke-width="0.45" textLength="43.8" lengthAdjust="spacingAndGlyphs">Blp<tspan font-family='"Liberation Mono", monospace' font-size="19.22">I</tspan></text>
<!--T--><text transform="translate(141.1 979.4) scale(1.1 1)" font-family='"Liberation Sans", sans-serif' font-size="18.0" font-weight="normal" fill="#000" textLength="58.09" lengthAdjust="spacing">(66<tspan font-family='"Liberation Mono", monospace' font-size="18.8">1</tspan>4)</text>
<!--T--><text x="219.6" y="979.4" font-family='"Liberation Sans", sans-serif' font-size="18.4" font-weight="bold" fill="#000" stroke="#000" stroke-width="0.45" textLength="84.4" lengthAdjust="spacingAndGlyphs">BstZ17<tspan font-family='"Liberation Mono", monospace' font-size="19.22">I</tspan></text>
<!--T--><text transform="translate(194 1011.4) scale(1.1 1)" font-family='"Liberation Sans", sans-serif' font-size="18.0" font-weight="normal" fill="#000" textLength="57.45" lengthAdjust="spacing">(64<tspan font-family='"Liberation Mono", monospace' font-size="18.8">1</tspan>9)</text>
<!--T--><text x="271.8" y="1011.4" font-family='"Liberation Sans", sans-serif' font-size="18.4" font-weight="bold" fill="#000" stroke="#000" stroke-width="0.45" textLength="57.4" lengthAdjust="spacingAndGlyphs">PluT<tspan font-family='"Liberation Mono", monospace' font-size="19.22">I</tspan></text>
<!--T--><text transform="translate(224.3 1033.5) scale(1.1 1)" font-family='"Liberation Sans", sans-serif' font-size="18.0" font-weight="normal" fill="#000" textLength="57.45" lengthAdjust="spacing">(64<tspan font-family='"Liberation Mono", monospace' font-size="18.8">1</tspan>7)</text>
<!--T--><text x="301.3" y="1033.5" font-family='"Liberation Sans", sans-serif' font-size="18.4" font-weight="bold" fill="#000" stroke="#000" stroke-width="0.45" textLength="46.3" lengthAdjust="spacingAndGlyphs">Sfo<tspan font-family='"Liberation Mono", monospace' font-size="19.22">I</tspan></text>
<!--T--><text transform="translate(240.8 1055.2) scale(1.1 1)" font-family='"Liberation Sans", sans-serif' font-size="18.0" font-weight="normal" fill="#000" textLength="58.09" lengthAdjust="spacing">(64<tspan font-family='"Liberation Mono", monospace' font-size="18.8">1</tspan>6)</text>
<!--T--><text x="319" y="1055.2" font-family='"Liberation Sans", sans-serif' font-size="18.4" font-weight="bold" fill="#000" stroke="#000" stroke-width="0.45" textLength="49" lengthAdjust="spacingAndGlyphs">Nar<tspan font-family='"Liberation Mono", monospace' font-size="19.22">I</tspan></text>
<!--T--><text transform="translate(264.7 1076.6) scale(1.1 1)" font-family='"Liberation Sans", sans-serif' font-size="18.0" font-weight="normal" fill="#000" textLength="57.64" lengthAdjust="spacing">(64<tspan font-family='"Liberation Mono", monospace' font-size="18.8">1</tspan>5)</text>
<!--T--><text x="342.7" y="1076.6" font-family='"Liberation Sans", sans-serif' font-size="18.4" font-weight="bold" fill="#000" stroke="#000" stroke-width="0.45" textLength="48.5" lengthAdjust="spacingAndGlyphs">Kas<tspan font-family='"Liberation Mono", monospace' font-size="19.22">I</tspan></text>
<!--T--><text transform="translate(203.9 1098.8) scale(1.1 1)" font-family='"Liberation Sans", sans-serif' font-size="18.0" font-weight="normal" fill="#000" textLength="57.64" lengthAdjust="spacing">(64<tspan font-family='"Liberation Mono", monospace' font-size="18.8">1</tspan>2)</text>
<!--T--><text x="281.6" y="1098.8" font-family='"Liberation Sans", sans-serif' font-size="18.4" font-weight="bold" fill="#000" stroke="#000" stroke-width="0.45" textLength="135.7" lengthAdjust="spacingAndGlyphs"><tspan fill="#000">Mre<tspan font-family='"Liberation Mono", monospace' font-size="19.22">I</tspan></tspan><tspan font-weight="normal" fill="#000" stroke-width="0"> - </tspan><tspan fill="#000">SgrA<tspan font-family='"Liberation Mono", monospace' font-size="19.22">I</tspan></tspan></text>
<!--T--><text transform="translate(319.4 1131.5) scale(1.1 1)" font-family='"Liberation Sans", sans-serif' font-size="18.0" font-weight="normal" fill="#000" textLength="58.82" lengthAdjust="spacing">(5943)</text>
<!--T--><text x="398.4" y="1131.5" font-family='"Liberation Sans", sans-serif' font-size="18.4" font-weight="bold" fill="#000" stroke="#000" stroke-width="0.45" textLength="64" lengthAdjust="spacingAndGlyphs">EcoN<tspan font-family='"Liberation Mono", monospace' font-size="19.22">I</tspan></text>
<!--T--><text transform="translate(288.2 1163.5) scale(1.1 1)" font-family='"Liberation Sans", sans-serif' font-size="18.0" font-weight="normal" fill="#000" textLength="58.55" lengthAdjust="spacing">(57<tspan font-family='"Liberation Mono", monospace' font-size="18.8">1</tspan>0)</text>
<!--T--><text x="366.4" y="1163.5" font-family='"Liberation Sans", sans-serif' font-size="18.4" font-weight="bold" fill="#8c8c8c" stroke="#8c8c8c" stroke-width="0.45" textLength="153.9" lengthAdjust="spacingAndGlyphs"><tspan fill="#8c8c8c">BspD<tspan font-family='"Liberation Mono", monospace' font-size="19.22">I</tspan>*</tspan><tspan font-weight="normal" fill="#000" stroke-width="0"> - </tspan><tspan fill="#8c8c8c">Cla<tspan font-family='"Liberation Mono", monospace' font-size="19.22">I</tspan>*</tspan></text>
<!--T--><text transform="translate(442.5 1184.9) scale(1.1 1)" font-family='"Liberation Sans", sans-serif' font-size="18.0" font-weight="normal" fill="#000" textLength="58.82" lengthAdjust="spacing">(5634)</text>
<!--T--><text x="521.5" y="1184.9" font-family='"Liberation Sans", sans-serif' font-size="18.4" font-weight="bold" fill="#000" stroke="#000" stroke-width="0.45" textLength="52.4" lengthAdjust="spacingAndGlyphs">Bmt<tspan font-family='"Liberation Mono", monospace' font-size="19.22">I</tspan></text>
<rect x="498.8" y="127.8" width="121.4" height="22.7" rx="5.5" ry="5.5" fill="#a9cfd8" stroke="#3f8fab" stroke-width="1.6"/>
<!--T--><text transform="translate(501 145.3) scale(1.05 1)" font-family='"Liberation Sans", sans-serif' font-size="18.6" font-weight="normal" fill="#000" textLength="111.14" lengthAdjust="spacing">lac operator</text>
<rect x="417.8" y="156.2" width="128.6" height="22.5" rx="5.5" ry="5.5" fill="#ffffff" stroke="#a0a0a0" stroke-width="1.6"/>
<!--T--><text transform="translate(420 173.5) scale(1.05 1)" font-family='"Liberation Sans", sans-serif' font-size="18.6" font-weight="normal" fill="#000" textLength="118" lengthAdjust="spacing">lac promoter</text>
<rect x="329.8" y="185" width="163.2" height="23.4" rx="5.5" ry="5.5" fill="#a9cfd8" stroke="#3f8fab" stroke-width="1.6"/>
<!--T--><text transform="translate(332 203.2) scale(1.05 1)" font-family='"Liberation Sans", sans-serif' font-size="18.6" font-weight="normal" fill="#000" textLength="150.95" lengthAdjust="spacing">CAP binding site</text>
<rect x="88.3" y="248.8" width="318.2" height="23.6" rx="5.5" ry="5.5" fill="#ffffff" stroke="#a0a0a0" stroke-width="1.6"/>
<!--T--><text transform="translate(90.4 267.7) scale(1.05 1)" font-family='"Liberation Sans", sans-serif' font-size="18.6" font-weight="normal" fill="#000" textLength="298.48" lengthAdjust="spacing">CaMV 35S promoter (enhanced)</text>
<rect x="1106.3" y="561.7" width="137.5" height="23.7" rx="5.5" ry="5.5" fill="#ffffff" stroke="#a0a0a0" stroke-width="1.6"/>
<!--T--><text transform="translate(1108 579.4) scale(1.05 1)" font-family='"Liberation Sans", sans-serif' font-size="18.6" font-weight="normal" fill="#000" textLength="126.86" lengthAdjust="spacing">E9 terminator</text>
<rect x="54.6" y="558.9" width="166" height="22.8" rx="5.5" ry="5.5" fill="#fde2c8" stroke="#c9a98d" stroke-width="1.6"/>
<!--T--><text transform="translate(56.8 575.5) scale(1.05 1)" font-family='"Liberation Sans", sans-serif' font-size="18.6" font-weight="normal" fill="#000" textLength="154.67" lengthAdjust="spacing">LB T-DNA repeat</text>
<rect x="775.7" y="1156.9" width="113.4" height="24.3" rx="5.5" ry="5.5" fill="#e2bcd0" stroke="#9b3b6b" stroke-width="1.6"/>
<!--T--><text transform="translate(777.9 1176) scale(1.05 1)" font-family='"Liberation Sans", sans-serif' font-size="18.6" font-weight="normal" fill="#000" textLength="103.52" lengthAdjust="spacing">pVS1 RepA</text>
<path d="M1057.2 99.6 L1062.2 82 L1068.6 83.4 L1063.4 94.4 L1060.4 99.6 Z" fill="#7fd6f0"/>
<path d="M1067.6 87.6 L1073.8 91.2 L1069.6 96.6 L1067.4 95.2 Z" fill="#8fdcf2"/>
<text x="1085" y="96" font-family='"Liberation Sans", sans-serif' font-size="16" fill="#b8b8b8" textLength="193" lengthAdjust="spacingAndGlyphs">Created with <tspan fill="#e6a2a0">Snap</tspan>Gene</text>
<text x="1280" y="88" font-family='"Liberation Sans", sans-serif' font-size="9" fill="#c0c0c0">&#174;</text>
</svg></body></html>
